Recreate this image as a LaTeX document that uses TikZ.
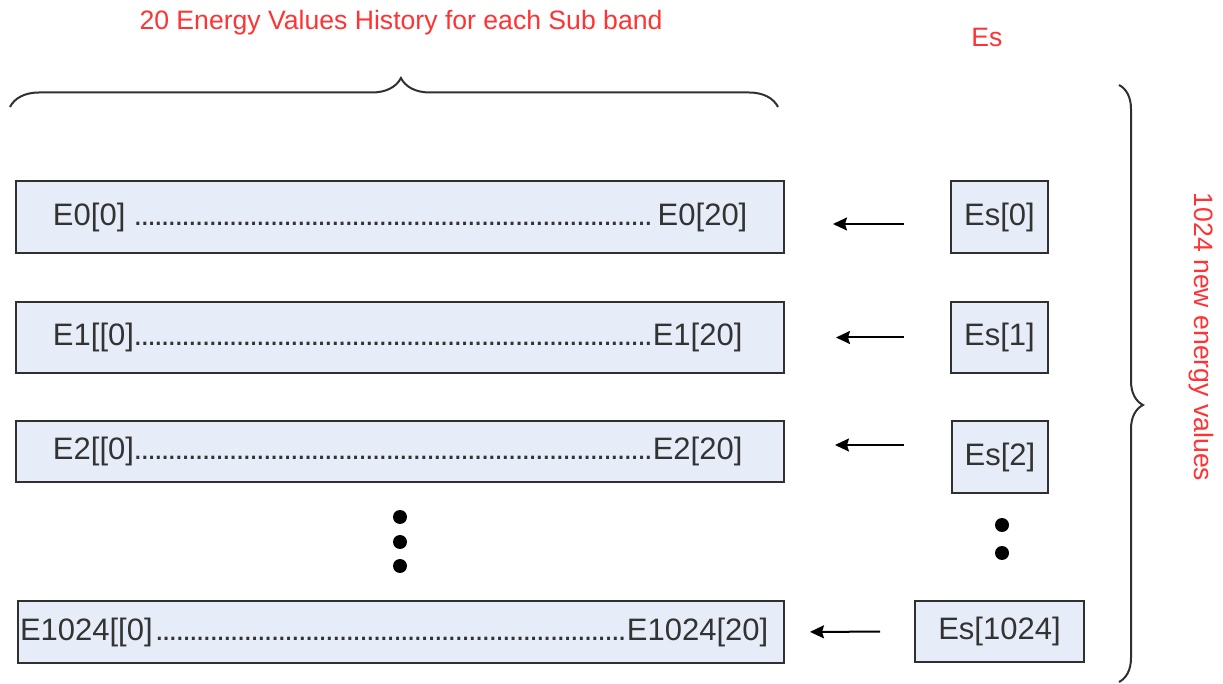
\documentclass[tikz,border=0pt]{standalone}
\usepackage{fontspec}
\setmainfont{Liberation Sans}
\usetikzlibrary{arrows.meta,decorations.pathreplacing}
\definecolor{boxfill}{HTML}{E7EDF8}
\definecolor{boxline}{HTML}{303030}
\definecolor{boxtext}{HTML}{333333}
\definecolor{redtext}{RGB}{255,51,51}
\newcommand{\myleader}{\leaders\hbox to 3.4pt{\hss.\hss}\hfill}
\tikzset{
  histbox/.style={draw=boxline, fill=boxfill, line width=1pt, inner sep=0pt,
    text=boxtext, font=\fontsize{15.5}{18}\selectfont},
  esbox/.style={histbox},
  redlabel/.style={text=redtext, font=\fontsize{13.3}{15}\selectfont, inner sep=0pt},
  arr/.style={draw=black, line width=1pt, -{Stealth[length=7pt,width=6.5pt,inset=1pt]}},
  bigdot/.style={circle, fill=black, inner sep=0pt, minimum size=7pt},
  bracestyle/.style={draw=boxline, line width=1pt, decorate}
}
\begin{document}
\begin{tikzpicture}[x=0.5pt,y=-0.5pt]
\useasboundingbox (0,0) rectangle (1223,684);

% titles
\node[redlabel] (title) at (401,23) {20 Energy Values History for each Sub band};
\node[redlabel] (estitle) at (987,37) {Es};
\node[redlabel, rotate=-90] (side) at (1201,337) {1024 new energy values};

% history boxes
\node[histbox, minimum width=384pt, minimum height=36pt] (e0) at (400,217)
  {\makebox[347pt]{E0[0] \myleader E0[20]}};
\node[histbox, minimum width=384pt, minimum height=35.5pt] (e1) at (400,337.5)
  {\makebox[347pt][l]{\makebox[344.5pt]{E1[[0]\myleader E1[20]}}};
\node[histbox, minimum width=384pt, minimum height=30.5pt] (e2) at (400,451.5)
  {\makebox[347pt][l]{\makebox[344.5pt]{E2[[0]\myleader E2[20]}}};
\node[histbox, minimum width=383pt, minimum height=31pt] (e3) at (401,632)
  {\makebox[381pt][l]{\makebox[374pt]{E1024[[0]\myleader E1024[20]}}};

% Es boxes
\node[esbox, minimum width=48.5pt, minimum height=36pt] (es0) at (999.5,217) {Es[0]};
\node[esbox, minimum width=48.5pt, minimum height=35.5pt] (es1) at (999.5,337.5) {Es[1]};
\node[esbox, minimum width=48pt, minimum height=36pt] (es2) at (1000,457) {Es[2]};
\node[esbox, minimum width=84.5pt, minimum height=30.5pt] (es3) at (999.5,631.5) {Es[1024]};

% arrows
\draw[arr, shorten <=23pt, shorten >=24pt] ([yshift=-3.5pt]es0.west) -- ([yshift=-3.5pt]e0.east);
\draw[arr, shorten <=23pt, shorten >=25.5pt] (es1.west) -- (e1.east);
\draw[arr, shorten <=23.5pt, shorten >=25pt] ([yshift=6pt]es2.west) -- ([yshift=3.25pt]e2.east);
\draw[arr, shorten <=17pt, shorten >=12.5pt] (es3.west) -- (e3.east);

% dots
\node[bigdot] (ld1) at (400,517) {};
\node[bigdot] (ld2) at (400,542) {};
\node[bigdot] (ld3) at (400,566) {};
\node[bigdot] (rd1) at (1002,525) {};
\node[bigdot] (rd2) at (1002,553) {};

% braces
\coordinate (tbl) at (10,107);
\coordinate (tbr) at (778,107);
\draw[bracestyle, decoration={brace, amplitude=14.5pt, aspect=0.509}] (tbl) -- (tbr);
\coordinate (rbt) at (1119,85);
\coordinate (rbb) at (1119,682);
\draw[bracestyle, decoration={brace, amplitude=12pt, aspect=0.536}] (rbt) -- (rbb);
\end{tikzpicture}
\end{document}
